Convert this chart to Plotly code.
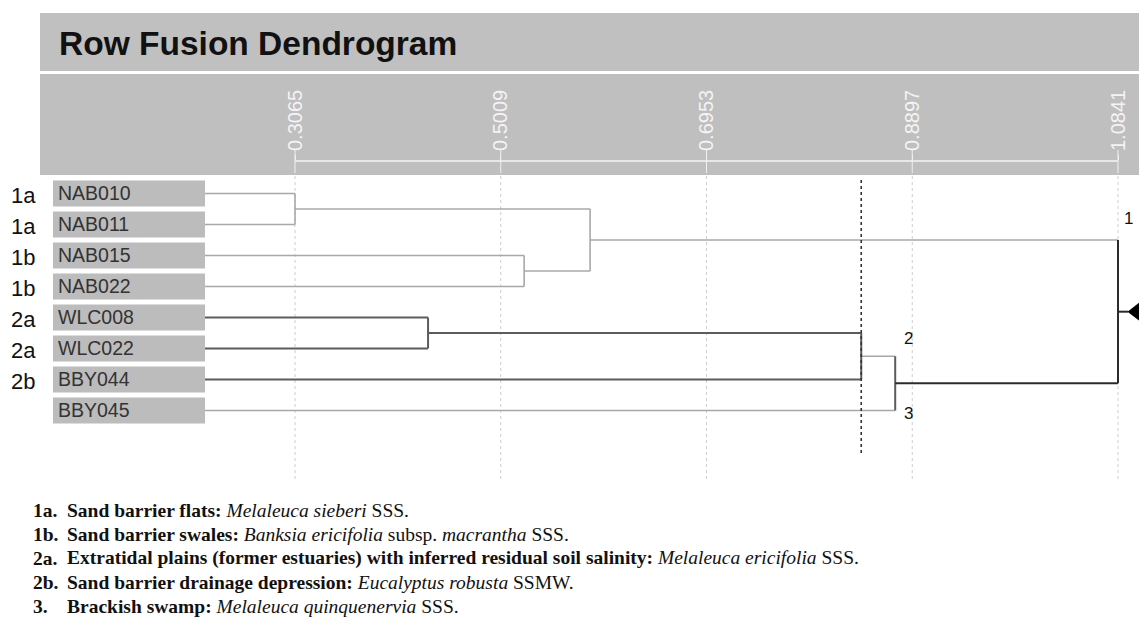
import plotly.graph_objects as go

# ---------------- data ----------------
leaves = ["NAB010", "NAB011", "NAB015", "NAB022", "WLC008", "WLC022", "BBY044", "BBY045"]
groups = ["1a", "1a", "1b", "1b", "2a", "2a", "2b", ""]
# linkage: node ids 0..7 are leaves, new nodes numbered from 8
merge_left = [0, 2, 4, 8, 10, 12, 11]
merge_right = [1, 3, 5, 9, 6, 7, 13]
merge_height = [0.3065, 0.5230, 0.4322, 0.5853, 0.8415, 0.8736, 1.0841]
tick_vals = [0.3065, 0.5009, 0.6953, 0.8897, 1.0841]
tick_text = ["0.3065", "0.5009", "0.6953", "0.8897", "1.0841"]
cut_height = 0.8415
cluster_ids = ["1", "2", "3"]
cluster_nodes = [11, 12, 7]
caption_nums = ["1a.", "1b.", "2a.", "2b.", "3."]
caption_texts = [
    "<b>Sand barrier flats:</b> <i>Melaleuca sieberi</i> SSS.",
    "<b>Sand barrier swales:</b> <i>Banksia ericifolia</i> subsp. <i>macrantha</i> SSS.",
    "<b>Extratidal plains (former estuaries) with inferred residual soil salinity:</b> <i>Melaleuca ericifolia</i> SSS.",
    "<b>Sand barrier drainage depression:</b> <i>Eucalyptus robusta</i> SSMW.",
    "<b>Brackish swamp:</b> <i>Melaleuca quinquenervia</i> SSS.",
]

# ---------------- styling / geometry helpers ----------------
W, H = 1139, 625
TOP = 161                      # axis line pixel row (top of plot area)
K = (1118 - 295) / (tick_vals[-1] - tick_vals[0])   # px per unit
X0 = tick_vals[0] - 295 / K
ROW0, ROWH = 193.5, 31.0


def xv(px):
    return X0 + px / K


def yv(py):
    return (py - ROW0) / ROWH


def pp(py):  # pixel row -> paper y
    return (H - py) / (H - TOP)


LIGHT, DARK, DARKEST = "#a8a8a8", "#5c5c5c", "#2b2b2b"
branch_color = {0: LIGHT, 1: LIGHT, 2: LIGHT, 3: LIGHT, 4: DARK, 5: DARK, 6: DARK,
                7: LIGHT, 8: LIGHT, 9: LIGHT, 10: DARK, 11: LIGHT, 12: LIGHT, 13: DARKEST}
vert_color = {8: LIGHT, 9: LIGHT, 10: DARK, 11: LIGHT, 12: DARK, 13: DARK, 14: DARKEST}

leaf_x = xv(205)
n = len(leaves)
node_x = {i: leaf_x for i in range(n)}
node_y = {i: float(i) for i in range(n)}

segs = {}


def add(color, xs, ys):
    d = segs.setdefault(color, ([], []))
    d[0].extend(xs + [None])
    d[1].extend(ys + [None])


for k, (a, b, h) in enumerate(zip(merge_left, merge_right, merge_height)):
    nid = n + k
    for c in (a, b):
        add(branch_color[c], [node_x[c], h], [node_y[c], node_y[c]])
    add(vert_color[nid], [h, h], [node_y[a], node_y[b]])
    node_x[nid] = h
    node_y[nid] = (node_y[a] + node_y[b]) / 2

root = n + len(merge_height) - 1

fig = go.Figure()

for color, (xs, ys) in segs.items():
    fig.add_trace(go.Scatter(x=xs, y=ys, mode="lines",
                             line=dict(color=color, width=2 if color != LIGHT else 1.6),
                             hoverinfo="skip", showlegend=False))

# root stub and triangle marker
stub = 10 / K
fig.add_trace(go.Scatter(x=[node_x[root], node_x[root] + stub], y=[node_y[root]] * 2,
                         mode="lines", line=dict(color=DARKEST, width=2),
                         hoverinfo="skip", showlegend=False))
fig.add_trace(go.Scatter(x=[node_x[root] + stub + 8 / K], y=[node_y[root]], mode="markers",
                         marker=dict(symbol="triangle-left", size=17, color="black"),
                         hoverinfo="skip", showlegend=False))

shapes = []
# header bands
shapes.append(dict(type="rect", xref="paper", yref="paper", x0=40 / W, x1=1.0,
                   y0=pp(71), y1=pp(13), fillcolor="#c0c0c0", line=dict(width=0), layer="below"))
shapes.append(dict(type="rect", xref="paper", yref="paper", x0=40 / W, x1=1.0,
                   y0=pp(175), y1=pp(74), fillcolor="#bfbfbf", line=dict(width=0), layer="below"))
# axis line
shapes.append(dict(type="line", xref="x", yref="paper", x0=tick_vals[0], x1=tick_vals[-1],
                   y0=1, y1=1, line=dict(color="#f4f4f4", width=1.5)))
for tv in tick_vals:
    shapes.append(dict(type="line", xref="x", yref="paper", x0=tv, x1=tv,
                       y0=pp(173), y1=pp(150), line=dict(color="#f0f0f0", width=1)))
    shapes.append(dict(type="line", xref="x", yref="y", x0=tv, x1=tv,
                       y0=yv(176), y1=yv(482), line=dict(color="#cdcdcd", width=1, dash="dot"),
                       layer="below"))
# label boxes
for i in range(n):
    shapes.append(dict(type="rect", xref="x", yref="y", x0=xv(53), x1=leaf_x,
                       y0=i - 13 / ROWH, y1=i + 13 / ROWH, fillcolor="#bcbcbc",
                       line=dict(width=0), layer="below"))
# cut line
shapes.append(dict(type="line", xref="x", yref="y", x0=cut_height, x1=cut_height,
                   y0=yv(180), y1=yv(456), line=dict(color="#333333", width=1.6, dash="3px,3px")))

ann = []
ann.append(dict(text="<b>Row Fusion Dendrogram</b>", xref="paper", yref="paper", x=57 / W, y=pp(44),
                xanchor="left", yanchor="middle", showarrow=False,
                font=dict(family="Liberation Sans, Arial", size=33.5, color="#111111")))
for i, (lab, g) in enumerate(zip(leaves, groups)):
    ann.append(dict(text=lab, xref="paper", yref="y", x=56 / W, y=i - 0.03, xanchor="left",
                    yanchor="middle", showarrow=False,
                    font=dict(family="Liberation Sans, Arial", size=19.5, color="#333333")))
    if g:
        ann.append(dict(text=g, xref="paper", yref="y", x=9 / W, y=i + 0.08, xanchor="left",
                        yanchor="middle", showarrow=False,
                        font=dict(family="Liberation Sans, Arial", size=22, color="#111111")))
cl_dx = [10, 13, 13]
cl_dy = [-22, -18, 3]
for cid, nd, dx, dy in zip(cluster_ids, cluster_nodes, cl_dx, cl_dy):
    parent_h = None
    for k, (a, b, h) in enumerate(zip(merge_left, merge_right, merge_height)):
        if nd in (a, b):
            parent_h = h
    ann.append(dict(text=cid, xref="x", yref="y", x=parent_h + dx / K, y=node_y[nd] + dy / ROWH,
                    xanchor="center", yanchor="middle", showarrow=False,
                    font=dict(family="Liberation Sans, Arial", size=17, color="#111111")))
for j, (num, txt) in enumerate(zip(caption_nums, caption_texts)):
    ycap = pp(510 + 24.2 * j)
    ann.append(dict(text="<b>" + num + "</b>", xref="paper", yref="paper", x=31 / W, y=ycap,
                    xanchor="left", yanchor="middle", showarrow=False,
                    font=dict(family="Liberation Serif, Times New Roman", size=19.5, color="#111111")))
    ann.append(dict(text=txt, xref="paper", yref="paper", x=65 / W, y=ycap,
                    xanchor="left", yanchor="middle", showarrow=False,
                    font=dict(family="Liberation Serif, Times New Roman", size=19.5, color="#111111")))

fig.update_layout(
    width=W, height=H,
    margin=dict(l=0, r=0, t=TOP, b=0),
    paper_bgcolor="white", plot_bgcolor="white",
    shapes=shapes, annotations=ann,
    xaxis=dict(range=[xv(0), xv(W)], side="top", tickvals=tick_vals, ticktext=tick_text,
               ticks="outside", ticklen=5, tickcolor="#f0f0f0", tickwidth=1, tickangle=-90,
               tickfont=dict(family="Liberation Sans, Arial", size=20, color="#f4f4f4"),
               showgrid=False, zeroline=False, showline=False, fixedrange=True),
    yaxis=dict(range=[yv(H), yv(TOP)], visible=False, fixedrange=True),
    showlegend=False,
)

fig.write_html("out.html", config={"displayModeBar": False},
               post_script="document.body.style.margin='0';document.body.style.overflow='hidden';")
